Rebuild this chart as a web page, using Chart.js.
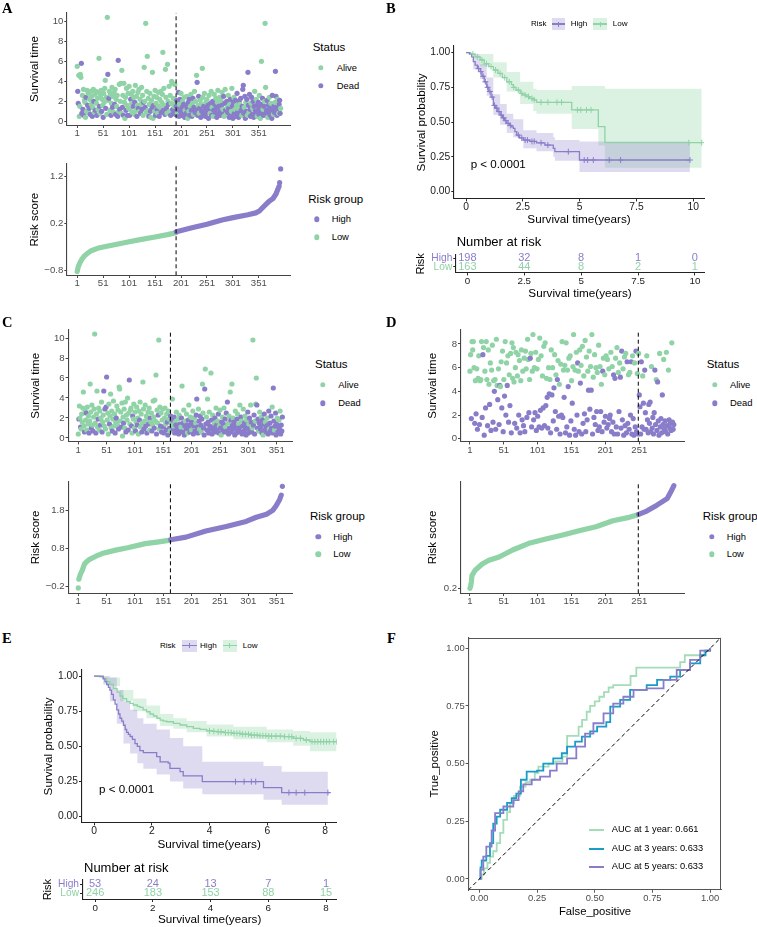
<!DOCTYPE html>
<html>
<head>
<meta charset="utf-8">
<title>Risk model figure</title>
<script src="https://cdn.jsdelivr.net/npm/chart.js@4.4.7/dist/chart.umd.min.js"></script>
<style>
  html, body { margin: 0; padding: 0; background: #fff; }
  #fig { position: relative; width: 757px; height: 927px; overflow: hidden; font-family: 'Liberation Sans', Arial, Helvetica, sans-serif; color: #000; }
  #fig canvas { position: absolute; }
  .t { position: absolute; white-space: nowrap; line-height: 1; transform: translateY(-50%); z-index: 2; }
  .lbl { font-family: 'Liberation Serif', 'Times New Roman', serif; font-weight: bold; }
  .dot { position: absolute; width: 5.4px; height: 5.4px; border-radius: 50%; transform: translate(-50%, -50%); z-index: 2; }
  .key { position: absolute; z-index: 2; }
</style>
</head>
<body>
<div id="fig"></div>
<script>
// ---------- data: panel A (survival time per patient, ordered by risk score) ----------
const timeA = [
  5.5,3.0,1.8,4.6,0.5,1.5,4.7,4.4,5.8,0.8, 2.6,1.2,3.2,0.6,2.1,1.9,0.4,2.4,1.0,3.1,
  1.6,2.8,0.9,1.3,2.2,0.7,3.0,1.7,2.5,0.5, 1.4,3.2,2.0,0.9,2.7,1.1,3.0,1.8,0.6,2.3,
  1.2,2.9,6.3,1.5,0.8,2.6,3.1,1.0,2.2,1.6, 0.4,2.8,1.9,3.3,4.1,1.3,2.4,0.7,10.4,4.7,
  2.1,2.3,3.0,1.1,2.7,0.6,1.8,3.4,1.4,2.5, 0.9,2.9,1.7,3.2,0.7,2.2,1.5,2.6,0.5,6.1,
  1.0,3.7,1.2,2.0,3.8,0.8,5.1,1.4,2.6,0.6, 3.8,1.9,0.3,2.4,1.1,3.3,1.6,0.6,2.8,1.3,
  3.5,0.6,1.2,2.2,2.7,1.8,0.9,3.0,1.5,2.4, 0.7,1.9,3.6,1.1,2.5,0.5,1.6,2.9,1.3,3.2,
  1.0,2.2,0.8,1.7,3.4,1.2,2.6,0.6,1.9,5.4, 2.0,1.4,9.8,0.9,3.0,6.5,1.1,2.3,0.5,1.7,
  2.8,1.0,0.4,2.1,1.3,4.9,0.3,1.6,2.5,1.0, 3.1,0.6,1.8,2.4,1.2,0.8,2.9,1.5,0.5,2.2,
  1.4,3.0,0.9,1.9,2.7,6.9,1.1,3.3,1.6,0.7, 5.2,2.4,1.3,0.8,5.7,2.0,1.7,3.5,1.0,2.6,
  0.6,1.8,4.0,3.8,1.2,2.3,0.9,1.5,3.7,0.7, 1.9,1.5,2.1,0.8,1.2,2.9,0.5,1.7,2.2,1.0,
  2.8,0.6,1.4,2.0,0.9,1.7,2.4,0.4,1.1,1.6, 0.8,2.5,1.3,0.3,1.9,1.0,2.2,0.6,1.5,2.7,
  1.1,0.5,1.8,2.3,0.7,1.4,3.0,0.9,2.0,1.2, 4.6,3.9,0.6,1.6,2.5,0.8,1.3,2.1,0.4,1.7,
  1.0,5.3,2.4,0.7,1.5,2.8,1.1,0.5,1.9,1.3, 2.2,0.9,1.6,0.3,2.6,1.2,0.8,1.8,3.0,0.6,
  1.4,2.0,0.5,1.1,2.7,1.7,0.9,2.3,1.3,0.4, 1.9,3.1,0.7,1.5,2.4,1.0,0.6,2.1,1.6,2.9,
  0.8,1.2,2.5,0.5,1.8,3.2,1.1,0.7,2.0,1.4, 0.9,2.6,1.3,0.4,1.7,2.2,0.6,1.0,3.3,1.5,
  0.3,1.9,2.4,0.8,1.2,2.1,0.5,1.6,2.8,0.9, 1.3,0.4,2.0,1.7,0.7,2.3,1.1,0.6,1.5,3.2,
  3.6,0.8,1.4,2.5,0.3,1.9,1.0,2.2,0.6,4.9, 1.6,0.9,2.7,1.2,0.5,1.8,2.4,0.7,1.3,2.0,
  0.4,1.5,3.0,1.0,0.8,2.2,1.6,0.5,1.1,1.9, 0.7,2.6,1.3,0.3,1.7,6.0,0.9,2.3,1.2,0.6,
  1.5,2.0,9.8,3.4,0.8,1.1,2.1,0.4,1.6,0.9, 2.4,1.3,0.6,1.8,1.0,0.3,2.6,1.2,0.7,1.5,
  0.9,1.9,5.0,2.5,1.1,0.6,2.2,1.4,0.8,1.7, 2.1,0.8,1.3
];
const statusA = ('ADDAAAAADD ADADAAADAA DAADADAAAD AADAADAADA AAADAAADAA DAAAADAAAD ADAAADAADA AADADAAADD ' +
  'AADAAAADAD AAAADAADAA ADADAAAADA ADAAADAADA AADAADAADA ADAAAAAADA ADAADAADAA ADAADAAADA ' +
  'AADAAADAAD AADAAADAAA DAAADADAAD ADDADDDADD ADDADDADAD DADADADDAA DDADADADAD ADDADADADA ' +
  'DAADDADDAD ADDDADADAD ADADADDADD AADDADDADA DADADADADA DADDADDAAD DDADADDADD ADDADDDADD ' +
  'DDADDADDAD DADDDADDAD DDADDADADD DADADADDAD DAAADDDADD ADDADDDDAD DADDDDADAD DDA').replace(/ /g, '').split('');
const lowCountA = 191;
const riskA_low = [[1,-0.82],[3,-0.72],[6,-0.64],[10,-0.56],[15,-0.49],[20,-0.44],[28,-0.38],[40,-0.33],[51,-0.30],[75,-0.25],[101,-0.19],[125,-0.14],[151,-0.09],[175,-0.04],[191,0.0]];
const riskA_high = [[192,0.02],[220,0.10],[251,0.18],[280,0.27],[301,0.32],[330,0.38],[345,0.42],[352,0.46],[360,0.55],[370,0.66],[378,0.72],[384,0.82],[388,0.93],[390,0.98]];
const riskA_outHigh = [[391,1.06],[393,1.35]];

// ---------- data: panel C ----------
const timeC = [
  0.4,1.9,3.2,2.0,1.1,0.9,2.4,1.6,3.0,4.6, 1.2,0.6,2.8,1.8,2.5,0.8,3.1,1.4,2.2,0.5,
  1.7,5.4,2.6,1.0,3.3,1.3,0.7,2.1,2.9,10.4, 1.5,0.5,2.4,4.7,1.1,1.9,3.0,0.8,2.7,1.3,
  2.0,3.6,0.6,1.6,2.3,4.7,1.2,2.9,0.9,3.1, 6.1,1.8,2.5,0.4,3.4,1.4,2.2,4.4,1.0,2.7,
  0.7,1.9,3.7,1.2,2.4,0.5,1.6,2.0,3.2,1.3, 2.8,0.9,5.1,4.9,1.7,2.6,1.1,3.5,0.2,2.1,
  1.5,2.9,1.0,3.6,0.6,2.3,1.8,4.0,0.8,2.5, 5.8,1.4,2.8,3.0,1.2,0.5,2.2,1.9,3.4,1.0,
  2.6,0.7,1.6,3.1,1.3,2.0,0.4,2.7,1.8,3.6, 1.1,2.4,0.6,1.5,5.6,2.9,0.9,1.7,3.3,1.2,
  2.2,0.5,1.9,2.6,1.4,3.0,0.8,2.0,1.6,2.5, 0.7,1.3,3.7,2.1,1.0,3.8,1.7,6.3,0.4,2.8,
  1.5,2.3,9.8,0.9,3.1,1.2,2.5,0.6,1.8,2.9, 1.1,0.5,2.0,3.0,1.4,0.8,2.4,1.6,0.3,2.7,
  1.9,1.0,0.7,2.2,1.5,1.8,3.9,0.9,1.2,2.1, 0.5,1.6,1.3,2.6,0.8,1.0,1.9,0.4,2.3,1.4,
  0.7,1.1,2.0,5.2,0.6,1.5,2.8,0.3,1.2,1.7, 0.9,2.4,1.3,0.5,1.8,3.3,1.0,0.6,2.1,1.4,
  0.8,1.6,2.7,0.4,1.2,2.0,0.7,1.5,2.3,3.9, 1.1,0.5,2.9,1.7,0.9,2.2,1.3,0.6,1.9,5.4,
  2.5,1.0,0.3,4.9,6.9,1.4,2.1,0.8,3.9,1.6, 0.5,2.6,1.2,0.9,6.5,1.8,0.4,2.3,1.1,0.7,
  1.5,2.0,0.6,3.0,1.3,0.9,1.7,2.4,0.5,1.2, 2.8,1.0,0.3,1.6,2.1,0.8,1.4,3.0,0.6,1.9,
  1.1,2.5,0.7,3.6,1.5,0.4,2.2,1.0,4.6,1.8, 0.6,5.4,1.3,2.0,0.9,1.6,0.3,2.7,1.2,0.5,
  1.9,2.4,0.8,1.4,1.0,3.3,0.6,2.1,1.7,0.4, 1.2,2.9,0.7,1.5,2.2,0.9,0.3,1.8,1.1,2.6,
  0.5,1.4,2.0,0.8,3.3,1.6,0.6,1.0,9.8,1.3, 2.3,0.4,1.7,3.4,6.0,3.3,1.0,1.9,0.7,1.5,
  2.6,0.9,1.2,2.1,0.5,1.8,0.3,1.4,2.4,0.8, 1.6,1.1,0.6,2.0,1.3,0.4,2.7,0.9,1.5,0.7,
  2.2,1.0,3.1,0.5,5.0,1.7,0.8,1.2,2.5,0.3, 1.4,2.0,0.6,1.1,1.8,0.9,2.7,0.4,1.3,0.7,
  2.1
];
const statusC = ('ADAADAAAAA ADAADAAAAD AAADAADAAA ADAAADAAAD AADAADADAD DAAAADAAAA DAAAADADAA ADAAAADAAA ' +
  'DAAADAAADA DAAADADAAA ADAADAAADA AADAAADAAD ADAADAADAA DAAADAAADA ADAAADADAA DDAAADADDA ' +
  'ADADADADAD DADADDADAD DADADDADDA DADADADDAD ADADDADADD DDADADDADA ADDDADADAD DADDADDADD ' +
  'ADDADDADDA ADADADDADD ADDDADADAD DADADDDADD DADADADDAD DADDADDADD DADDADDAAD DDAAADDDAD ' +
  'ADDADDADDD ADDADDDADD DDADDDADDD DADDADADDD D').replace(/ /g, '').split('');
const lowCountC = 163;
const riskC_low = [[2,0.0],[3,0.05],[5,0.14],[8,0.23],[12,0.40],[16,0.46],[20,0.51],[32,0.60],[43,0.67],[67,0.76],[90,0.83],[119,0.93],[140,0.97],[163,1.02]];
const riskC_high = [[164,1.03],[191,1.10],[226,1.26],[262,1.38],[297,1.51],[315,1.62],[333,1.70],[344,1.80],[350,1.92],[356,2.08],[359,2.20]];
const riskC_outLow = [[1,-0.23]];
const riskC_outHigh = [[361,2.43]];

// ---------- data: panel D ----------
const timeD = [
  5.7,7.1,1.7,8.2,7.5,8.2,6.0,1.3,4.9,2.1, 5.9,0.8,5.1,7.0,1.2,4.9,5.0,8.2,1.8,7.1,
  7.7,0.3,5.7,2.6,8.2,5.0,1.1,7.5,4.6,2.9, 6.4,0.7,5.8,7.9,1.4,4.9,4.0,5.0,0.8,8.4,
  4.5,3.3,5.9,1.2,4.5,4.4,6.5,2.6,7.4,0.6, 5.0,3.6,8.2,2.0,6.4,4.5,7.0,1.4,5.4,2.8,
  7.2,0.5,8.1,5.1,7.7,4.8,1.3,6.0,7.3,0.9, 5.3,7.1,2.0,6.6,0.5,4.9,7.5,1.6,5.7,1.1,
  6.8,0.6,7.4,5.9,1.8,8.4,6.7,2.2,5.0,6.8, 7.2,1.0,5.7,8.8,1.6,6.0,2.2,7.3,0.7,5.9,
  1.9,6.7,1.0,8.5,2.4,7.0,0.9,5.3,2.6,7.8, 1.1,8.1,2.8,5.1,3.5,0.9,6.0,3.8,5.0,0.5,
  7.5,3.7,6.0,1.5,4.3,7.1,2.3,5.4,0.8,5.0, 6.6,1.9,4.6,0.4,6.3,2.0,8.2,1.8,5.8,3.5,
  6.2,0.5,8.1,1.0,5.8,4.4,6.8,0.3,7.0,1.5, 4.9,3.0,6.1,8.8,0.8,5.8,0.3,7.3,2.0,6.4,
  5.7,0.6,7.5,4.7,6.2,0.4,7.8,1.3,5.3,2.1, 8.3,0.6,6.9,1.6,5.7,4.1,7.4,2.5,6.1,4.1,
  8.8,0.4,5.2,1.8,7.1,1.2,6.0,2.3,5.6,0.7, 7.9,1.0,6.1,2.3,4.6,0.6,5.7,6.8,1.4,5.4,
  1.9,7.0,0.9,6.7,1.2,5.9,1.7,2.0,7.3,0.6, 6.1,1.4,5.4,0.4,5.1,6.8,1.0,7.7,0.4,5.6,
  2.3,6.4,5.2,0.9,7.4,1.6,5.9,0.3,6.9,1.1, 7.2,0.5,6.5,1.3,5.4,0.8,5.6,2.0,6.5,0.4,
  7.0,1.7,0.3,6.4,1.0,7.4,0.6,5.5,0.4,7.2, 3.7,2.7,0.4,6.5,1.0,5.3,3.0,0.8,5.8,2.2,
  0.8,7.0,1.6,0.5,2.9,1.3,3.1,0.6,6.1,0.9, 1.8,0.4,2.2,5.8,1.2,5.0,0.7,4.8,1.5,0.3,
  7.2,1.0,1.7,0.5,3.7,1.2,6.7,0.8,1.5,0.6, 7.3,1.1,0.4,5.8,1.6,0.9,1.3,0.7,8.1,1.4,
  0.8,1.2
];
const statusD = ('AADAAAADAD ADAADAAADD ADADAADAAD ADAADADADA ADADDAADAD ADADADADAD ADAAAADAAD AADADAADAD ' +
  'ADAADAADAD ADAADADADA DADADADADA DADADDADAD ADADDADADD ADADADADAD ADADADADAD ADAADADADD ' +
  'ADADADADAD ADADADADAD ADADADADAD ADADADDADA DADADADDAD ADDDDADADA DADDDDADAD ADDDADADDD ' +
  'ADDADDDADA DDDDDADDDD DADDDDDDAD DDDDDADDDD ADDDDDADDD ADDADDDDAD DD').replace(/ /g, '').split('');
const lowCountD = 249;
const riskD_low = [[1,0.20],[2,0.22],[3,0.26],[4,0.32],[9,0.37],[19,0.425],[29,0.46],[44,0.49],[64,0.555],[88,0.617],[113,0.656],[138,0.693],[162,0.733],[187,0.77],[212,0.826],[236,0.857],[249,0.88]];
const riskD_high = [[250,0.885],[262,0.915],[277,0.97],[292,1.03],[299,1.11],[302,1.15]];

// ---------- data: panel B (Kaplan-Meier) ----------
const kmB_high_t = [0,0.15,0.25,0.32,0.4,0.5,0.62,0.7,0.8,0.91,1.0,1.1,1.2,1.3,1.4,1.5,1.6,1.7,1.79,1.9,2.0,2.08,2.15,2.23,2.35,2.52,2.8,3.1,3.47,3.84,3.91,4.99,9.85];
const kmB_high_s = [1,0.99,0.97,0.935,0.91,0.885,0.863,0.83,0.79,0.75,0.72,0.68,0.62,0.6,0.575,0.55,0.53,0.51,0.49,0.475,0.465,0.454,0.43,0.406,0.385,0.37,0.36,0.35,0.334,0.31,0.286,0.226,0.226];
const bandB_high_t = [0,0.32,0.62,0.91,1.2,1.5,1.79,2.08,2.52,3.1,3.84,3.91,4.99,9.85];
const bandB_high_up = [1,0.99,0.92,0.82,0.70,0.63,0.56,0.52,0.44,0.42,0.39,0.37,0.36,0.36];
const bandB_high_lo = [1,0.88,0.81,0.69,0.55,0.48,0.42,0.39,0.31,0.29,0.25,0.22,0.14,0.14];
const censB_high = [0.55,0.65,0.75,0.85,0.95,1.05,1.15,1.25,1.35,1.45,1.55,1.65,1.75,1.85,1.95,2.3,2.45,2.6,2.7,2.9,3.0,3.3,3.6,4.5,5.2,5.35,5.6,6.3,6.8,9.85];
const kmB_low_t = [0,0.2,0.4,0.62,0.8,1.0,1.2,1.4,1.6,1.79,2.0,2.08,2.2,2.38,2.5,2.67,2.8,2.96,3.1,4.65,5.82,6.11,10.37];
const kmB_low_s = [1,0.99,0.97,0.947,0.92,0.9,0.875,0.85,0.82,0.79,0.77,0.75,0.73,0.707,0.695,0.683,0.67,0.66,0.642,0.587,0.466,0.351,0.351];
const bandB_low_t = [0,0.62,1.2,1.79,2.38,2.96,3.1,4.65,5.82,6.11,10.37];
const bandB_low_up = [1,0.99,0.93,0.86,0.79,0.74,0.73,0.76,0.76,0.74,0.74];
const bandB_low_lo = [1,0.9,0.82,0.72,0.63,0.58,0.56,0.45,0.33,0.17,0.17];
const censB_low = [0.3,0.5,0.7,0.9,1.1,1.3,1.5,1.7,1.9,2.1,2.3,2.45,2.6,2.75,2.9,3.0,3.3,3.6,4.0,4.2,4.9,5.05,5.3,5.5,9.8,10.37];
const tableB_t = [0,2.5,5,7.5,10];
const tableB_high = [198,32,8,1,0];
const tableB_low = [163,44,8,2,1];

// ---------- data: panel E (Kaplan-Meier) ----------
const kmE_high_t = [0,0.32,0.38,0.44,0.5,0.55,0.61,0.67,0.73,0.79,0.85,0.9,0.96,1.02,1.08,1.13,1.19,1.25,1.33,1.42,1.5,1.59,1.71,2.17,2.29,2.57,2.63,2.98,3.09,3.75,5.87,6.5,8.18];
const kmE_high_s = [1,0.98,0.96,0.94,0.92,0.9,0.87,0.83,0.8,0.76,0.73,0.7,0.68,0.65,0.62,0.6,0.585,0.57,0.55,0.52,0.5,0.47,0.455,0.427,0.39,0.38,0.344,0.32,0.29,0.249,0.206,0.171,0.171];
const bandE_high_t = [0,0.32,0.55,0.79,1.02,1.25,1.5,1.71,2.17,2.63,3.09,3.75,5.87,6.5,8.1];
const bandE_high_up = [1,1,0.99,0.9,0.82,0.76,0.7,0.66,0.62,0.56,0.5,0.39,0.36,0.32,0.32];
const bandE_high_lo = [1,0.94,0.82,0.66,0.52,0.45,0.38,0.34,0.3,0.25,0.2,0.16,0.12,0.085,0.085];
const censE_high = [4.9,5.2,5.45,5.6,6.75,7.0,7.3,8.1];
const kmE_low_t = [0,0.2,0.3,0.44,0.55,0.67,0.8,0.9,1.0,1.13,1.25,1.36,1.5,1.59,1.7,1.82,1.94,2.06,2.18,2.29,2.4,2.52,2.75,2.98,3.21,3.44,3.67,3.9,4.1,4.25,4.5,4.83,5.1,5.4,5.7,5.98,6.56,6.9,7.25,7.48,8.4];
const kmE_low_s = [1,0.995,0.985,0.96,0.94,0.91,0.885,0.858,0.84,0.818,0.805,0.794,0.785,0.777,0.76,0.746,0.73,0.716,0.7,0.687,0.68,0.675,0.664,0.652,0.64,0.628,0.621,0.611,0.607,0.604,0.598,0.592,0.586,0.58,0.576,0.573,0.569,0.557,0.545,0.533,0.533];
const bandE_low_t = [0,0.44,0.9,1.36,1.82,2.29,2.75,3.21,3.9,4.83,5.98,6.9,7.48,8.4];
const bandE_low_up = [1,0.99,0.9,0.84,0.79,0.73,0.7,0.68,0.655,0.64,0.62,0.61,0.6,0.6];
const bandE_low_lo = [1,0.93,0.82,0.75,0.7,0.645,0.625,0.6,0.57,0.55,0.53,0.505,0.465,0.465];
const censE_low = [4.0,4.15,4.3,4.4,4.55,4.65,4.75,4.85,4.95,5.05,5.15,5.25,5.35,5.45,5.55,5.65,5.75,5.85,5.95,6.05,6.15,6.3,6.45,6.6,6.75,6.85,7.0,7.15,7.35,7.55,7.65,7.75,7.85,7.95,8.05,8.15,8.3,8.4];
const tableE_t = [0,2,4,6,8];
const tableE_high = [53,24,13,7,1];
const tableE_low = [246,183,153,88,15];

// ---------- data: panel F (ROC) ----------
const roc1_fpr = [0,0.01,0.02,0.035,0.046,0.06,0.075,0.09,0.104,0.12,0.133,0.15,0.176,0.2,0.22,0.24,0.256,0.3,0.33,0.36,0.38,0.42,0.43,0.445,0.465,0.48,0.5,0.52,0.54,0.56,0.58,0.64,0.655,0.68,0.85,0.87,0.89,0.96,0.975,1.0];
const roc1_tpr = [0,0.02,0.046,0.07,0.097,0.12,0.155,0.2,0.256,0.29,0.328,0.36,0.40,0.42,0.43,0.46,0.487,0.5,0.51,0.53,0.62,0.62,0.66,0.69,0.725,0.75,0.77,0.79,0.81,0.83,0.84,0.84,0.88,0.916,0.916,0.94,0.97,0.97,0.99,1.0];
const roc3_fpr = [0,0.005,0.01,0.03,0.046,0.06,0.075,0.09,0.12,0.14,0.16,0.18,0.205,0.25,0.277,0.32,0.357,0.38,0.415,0.444,0.48,0.51,0.55,0.567,0.61,0.653,0.725,0.77,0.827,0.87,0.913,0.957,0.98,1.0];
const roc3_tpr = [0,0.05,0.08,0.1,0.155,0.24,0.27,0.3,0.33,0.35,0.37,0.43,0.465,0.47,0.5,0.523,0.545,0.574,0.595,0.617,0.64,0.66,0.68,0.747,0.776,0.82,0.84,0.863,0.877,0.906,0.935,0.97,0.99,1.0];
const roc5_fpr = [0,0.005,0.017,0.03,0.053,0.068,0.104,0.147,0.17,0.19,0.227,0.263,0.306,0.335,0.38,0.42,0.458,0.494,0.538,0.58,0.624,0.668,0.725,0.798,0.855,0.913,0.957,1.0];
const roc5_tpr = [0,0.04,0.097,0.14,0.21,0.285,0.314,0.342,0.38,0.41,0.43,0.444,0.47,0.5,0.523,0.574,0.63,0.675,0.718,0.76,0.79,0.82,0.826,0.863,0.906,0.95,0.99,1.0];
const rocLabels = ['AUC at 1 year: 0.661', 'AUC at 3 years: 0.633', 'AUC at 5 years: 0.633'];

// ---------- styling / helpers ----------
const FONT = "'Liberation Sans', Arial, Helvetica, sans-serif";
Chart.defaults.font.family = FONT;
const GREEN = '#8fd3a6', PURPLE = '#897dca', BLUE = '#1b9bc8', GREEN_ROC = '#a4dcb7';
const GREEN_BAND = 'rgba(143,211,166,0.32)', PURPLE_BAND = 'rgba(137,125,202,0.28)';
const fig = document.getElementById('fig');

function txt(s, x, y, size, opt) {
  opt = opt || {};
  const d = document.createElement('div');
  d.className = 't' + (opt.cls ? ' ' + opt.cls : '');
  d.textContent = s;
  d.style.left = x + 'px';
  d.style.top = y + 'px';
  d.style.fontSize = size + 'px';
  if (opt.color) d.style.color = opt.color;
  fig.appendChild(d);
}
function dot(x, y, color) {
  const d = document.createElement('div');
  d.className = 'dot';
  d.style.left = x + 'px'; d.style.top = y + 'px'; d.style.background = color;
  fig.appendChild(d);
}
function kmKey(x, y, w, h, fill, stroke) {
  const k = document.createElement('div');
  k.className = 'key';
  k.style.cssText = `left:${x}px;top:${y}px;width:${w}px;height:${h}px;background:${fill};`;
  k.innerHTML = `<div style="position:absolute;left:0;right:0;top:${h / 2 - 0.6}px;height:1.2px;background:${stroke}"></div>` +
    `<div style="position:absolute;left:${w / 2 - 0.5}px;width:1px;top:${h / 2 - 2.5}px;height:5px;background:${stroke}"></div>`;
  fig.appendChild(k);
}
function lineKey(x0, x1, y, color) {
  const k = document.createElement('div');
  k.className = 'key';
  k.style.cssText = `left:${x0}px;top:${y - 1}px;width:${x1 - x0}px;height:2px;background:${color};`;
  fig.appendChild(k);
}

function axis(o) {
  return {
    type: 'linear', min: o.min, max: o.max, reverse: !!o.reverse,
    afterBuildTicks: s => { s.ticks = o.ticks.map(v => ({ value: v })); },
    ticks: {
      autoSkip: false, maxRotation: 0, minRotation: 0, padding: o.pad != null ? o.pad : 1,
      color: o.color || '#4d4d4d', font: { size: o.size || 9.6 },
      callback: o.fmt || (v => String(v))
    },
    grid: { display: true, drawOnChartArea: false, drawTicks: true, tickLength: 2.7, color: o.line || '#444', lineWidth: 1 },
    border: { display: true, color: o.line || '#444', width: 1.1 },
    title: o.title ? { display: true, text: o.title, color: '#000', font: { size: o.titleSize || 11.5 } } : { display: false }
  };
}

// box = canvas [left, top, width, height]; area = plot panel [x0, y0, x1, y1] in page pixels
function makeChart(box, area, datasets, scales, extra) {
  extra = extra || {};
  const [bx, by, bw, bh] = box, [x0, y0, x1, y1] = area;
  const c = document.createElement('canvas');
  c.width = bw; c.height = bh;
  c.style.left = bx + 'px'; c.style.top = by + 'px';
  c.style.width = bw + 'px'; c.style.height = bh + 'px';
  fig.appendChild(c);
  const xH = by + bh - y1, yW = x0 - bx;
  scales.x.afterFit = s => { s.height = xH; };
  scales.y.afterFit = s => { s.width = yW; };
  if (extra.xTitleAt != null) {
    const fs = scales.x.title.font.size;
    scales.x.title.padding = { top: 0, bottom: Math.max(0, by + bh - extra.xTitleAt - 0.6 * fs) };
  }
  if (extra.yTitleAt != null) {
    const fs = scales.y.title.font.size;
    scales.y.title.padding = { top: extra.yTitleAt - bx - 0.6 * fs, bottom: 0 };
  }
  return new Chart(c, {
    type: 'line',
    data: { datasets },
    options: {
      responsive: false, animation: false, devicePixelRatio: 1, events: [],
      layout: { padding: { left: 0, top: y0 - by, right: bx + bw - x1, bottom: 0 } },
      plugins: { legend: { display: false }, tooltip: { enabled: false } },
      scales
    },
    plugins: extra.plugins || []
  });
}

const signed1 = v => (v < 0 ? '\u2212' : '') + Math.abs(v).toFixed(1);
const fixed2 = v => v.toFixed(2);
const pair = a => a.map(p => ({ x: p[0], y: p[1] }));
const idxTicks = [1, 51, 101, 151, 201, 251, 301, 351];
const idxTicksD = [1, 51, 101, 151, 201, 251];

function cutLine(cut, yr) {
  return { data: [{ x: cut, y: yr[0] }, { x: cut, y: yr[1] }], borderColor: '#000', borderWidth: 1, borderDash: [4, 3], pointRadius: 0, fill: false };
}

function scatterPanel(box, area, times, status, xr, yr, yt, xt, cut, titleAt) {
  const datasets = [
    cutLine(cut, yr),
    {
      data: times.map((t, i) => ({ x: i + 1, y: t })), showLine: false,
      pointRadius: 2.6, pointHoverRadius: 2.6, pointBorderWidth: 0,
      pointBackgroundColor: status.map(s => s === 'A' ? GREEN : PURPLE)
    }
  ];
  const scales = {
    x: axis({ min: xr[0], max: xr[1], ticks: xt, pad: 0 }),
    y: axis({ min: yr[0], max: yr[1], ticks: yt, title: 'Survival time' })
  };
  makeChart(box, area, datasets, scales, { yTitleAt: titleAt });
}

function riskPanel(box, area, low, high, outLow, outHigh, xr, yr, yt, xt, cut, titleAt) {
  const curve = (d, col) => ({ data: pair(d), borderColor: col, borderWidth: 5.2, borderCapStyle: 'round', borderJoinStyle: 'round', pointRadius: 0, fill: false });
  const pts = (d, col) => ({ data: pair(d), showLine: false, pointRadius: 2.6, pointBorderWidth: 0, pointBackgroundColor: col });
  const datasets = [cutLine(cut, yr), pts(outHigh, PURPLE), pts(outLow, GREEN), curve(high, PURPLE), curve(low, GREEN)];
  const scales = {
    x: axis({ min: xr[0], max: xr[1], ticks: xt, pad: 0 }),
    y: axis({ min: yr[0], max: yr[1], ticks: yt, fmt: signed1, title: 'Risk score' })
  };
  makeChart(box, area, datasets, scales, { yTitleAt: titleAt });
}

function stepAt(t, s, c) { let v = s[0]; for (let i = 0; i < t.length; i++) if (t[i] <= c) v = s[i]; return v; }
function kmSets(t, s, bt, up, lo, cens, color, band) {
  return {
    cens: { data: cens.map(c => ({ x: c, y: stepAt(t, s, c) })), showLine: false, pointStyle: 'cross', pointRadius: 3, pointBorderWidth: 1, pointBorderColor: color, pointBackgroundColor: color },
    curve: { data: t.map((v, i) => ({ x: v, y: s[i] })), stepped: true, borderColor: color, borderWidth: 1.3, pointRadius: 0, fill: false },
    up: { data: bt.map((v, i) => ({ x: v, y: up[i] })), stepped: true, borderWidth: 0, borderColor: 'rgba(0,0,0,0)', pointRadius: 0, fill: '+1', backgroundColor: band },
    lo: { data: bt.map((v, i) => ({ x: v, y: lo[i] })), stepped: true, borderWidth: 0, borderColor: 'rgba(0,0,0,0)', pointRadius: 0, fill: false }
  };
}
function kmPanel(box, area, xr, yr, xt, hi, lo, xTitleAt, yTitleAt) {
  const datasets = [hi.cens, lo.cens, hi.curve, lo.curve, hi.up, hi.lo, lo.up, lo.lo];
  const scales = {
    x: axis({ min: xr[0], max: xr[1], ticks: xt, pad: 0, size: 10.3, color: '#1a1a1a', line: '#222', title: 'Survival time(years)', titleSize: 11.7 }),
    y: axis({ min: yr[0], max: yr[1], ticks: [0, 0.25, 0.5, 0.75, 1], fmt: fixed2, size: 10.3, color: '#1a1a1a', line: '#222', title: 'Survival probability', titleSize: 11.7 })
  };
  makeChart(box, area, datasets, scales, { xTitleAt, yTitleAt });
}

const tableText = {
  id: 'tableText',
  afterDatasetsDraw(chart) {
    const ctx = chart.ctx;
    ctx.save();
    ctx.font = '11px ' + FONT;
    ctx.textAlign = 'center';
    ctx.textBaseline = 'middle';
    chart.data.datasets.forEach((ds, i) => {
      ctx.fillStyle = ds.borderColor;
      chart.getDatasetMeta(i).data.forEach((pt, j) => ctx.fillText(String(ds.data[j].n), pt.x, pt.y));
    });
    ctx.restore();
  }
};
function tablePanel(box, area, xr, yr, times, high, low, xTitleAt, yTitleAt) {
  const scales = {
    x: axis({ min: xr[0], max: xr[1], ticks: times, pad: 0, size: 9.8, color: '#1a1a1a', line: '#222', title: 'Survival time(years)', titleSize: 11.7 }),
    y: axis({ min: yr[0], max: yr[1], reverse: true, ticks: [0, 1], fmt: v => v === 0 ? 'High' : 'Low', size: 10.2, line: '#222', title: 'Risk', titleSize: 11 })
  };
  scales.y.ticks.color = c => (c.tick && c.tick.value === 0) ? PURPLE : GREEN;
  const datasets = [
    { data: times.map((t, i) => ({ x: t, y: 0, n: high[i] })), borderColor: PURPLE, showLine: false, pointRadius: 0 },
    { data: times.map((t, i) => ({ x: t, y: 1, n: low[i] })), borderColor: GREEN, showLine: false, pointRadius: 0 }
  ];
  makeChart(box, area, datasets, scales, { xTitleAt, yTitleAt, plugins: [tableText] });
}

const frameBox = {
  id: 'frameBox',
  afterDraw(chart) {
    const a = chart.chartArea, ctx = chart.ctx;
    ctx.save();
    ctx.strokeStyle = '#555';
    ctx.lineWidth = 1;
    ctx.strokeRect(Math.round(a.left) + 0.5, Math.round(a.top) + 0.5, Math.round(a.width) - 1, Math.round(a.height) - 1);
    ctx.restore();
  }
};

// ---------- Panel A ----------
const xrA = [-18.7, 411];
scatterPanel([0, 0, 300, 140], [67, 12.7, 290, 125.3], timeA, statusA, xrA, [-0.4, 10.86], [0, 2, 4, 6, 8, 10], idxTicks, lowCountA + 0.5, 35);
riskPanel([0, 150, 300, 145], [67, 164, 290, 275.3], riskA_low, riskA_high, [], riskA_outHigh, xrA, [-0.9, 1.454], [-0.8, 0.2, 1.2], idxTicks, lowCountA + 0.5, 35);

// ---------- Panel C ----------
const xrC = [-16.6, 379.2];
scatterPanel([0, 318, 300, 145], [68.3, 330, 292.7, 441.7], timeC, statusC, xrC, [-0.37, 10.8], [0, 2, 4, 6, 8, 10], idxTicks, lowCountC + 0.5, 35.7);
riskPanel([0, 468, 300, 145], [68.3, 481.7, 292.7, 593.3], riskC_low, riskC_high, riskC_outLow, riskC_outHigh, xrC, [-0.37, 2.55], [-0.2, 0.8, 1.8], idxTicks, lowCountC + 0.5, 35.7);

// ---------- Panel D ----------
const xrD = [-12.7, 317];
scatterPanel([400, 318, 300, 145], [460.7, 330, 684, 441.7], timeD, statusD, xrD, [-0.25, 9.18], [0, 2, 4, 6, 8], idxTicksD, lowCountD + 0.5, 433.3);
riskPanel([400, 468, 300, 145], [460.7, 481.7, 684, 593.3], riskD_low, riskD_high, [], [], xrD, [0.154, 1.187], [0.2], idxTicksD, lowCountD + 0.5, 433.3);

// ---------- Panel B ----------
kmPanel([400, 34, 320, 199], [454, 46, 704, 198.7], [-0.53, 10.47], [-0.053, 1.048], [0, 2.5, 5, 7.5, 10],
  kmSets(kmB_high_t, kmB_high_s, bandB_high_t, bandB_high_up, bandB_high_lo, censB_high, PURPLE, PURPLE_BAND),
  kmSets(kmB_low_t, kmB_low_s, bandB_low_t, bandB_low_up, bandB_low_lo, censB_low, GREEN, GREEN_BAND), 220, 421.7);
tablePanel([400, 243, 320, 59], [456, 255, 704, 272.7], [-0.5, 10.4], [-0.39, 1.71], tableB_t, tableB_high, tableB_low, 294, 420.7);

// ---------- Panel E ----------
kmPanel([0, 660, 352, 195], [81.7, 670, 336.7, 822.7], [-0.426, 8.405], [-0.043, 1.043], [0, 2, 4, 6, 8],
  kmSets(kmE_high_t, kmE_high_s, bandE_high_t, bandE_high_up, bandE_high_lo, censE_high, PURPLE, PURPLE_BAND),
  kmSets(kmE_low_t, kmE_low_s, bandE_low_t, bandE_low_up, bandE_low_lo, censE_low, GREEN, GREEN_BAND), 845, 48.3);
tablePanel([0, 868, 352, 59], [82.7, 880, 336.7, 899.3], [-0.43, 8.37], [-0.48, 1.67], tableE_t, tableE_high, tableE_low, 920, 47.7);

// ---------- Panel F ----------
(function () {
  const xr = [-0.048, 1.05], yr = [-0.048, 1.046];
  const roc = (f, t, col) => ({ data: f.map((v, i) => ({ x: v, y: t[i] })), stepped: true, borderColor: col, borderWidth: 1.8, pointRadius: 0, fill: false });
  const datasets = [
    { data: [{ x: xr[0], y: xr[0] }, { x: xr[1], y: xr[1] }], borderColor: '#000', borderWidth: 1, borderDash: [4, 3], pointRadius: 0, fill: false },
    roc(roc5_fpr, roc5_tpr, PURPLE),
    roc(roc3_fpr, roc3_tpr, BLUE),
    roc(roc1_fpr, roc1_tpr, GREEN_ROC)
  ];
  const t4 = [0, 0.25, 0.5, 0.75, 1];
  const scales = {
    x: axis({ min: xr[0], max: xr[1], ticks: t4, fmt: fixed2, pad: 0, size: 9.4, line: '#555', title: 'False_positive', titleSize: 11.3 }),
    y: axis({ min: yr[0], max: yr[1], ticks: t4, fmt: fixed2, size: 9.4, line: '#555', title: 'True_positive', titleSize: 11.3 })
  };
  makeChart([420, 626, 330, 301], [468.3, 637.7, 721.7, 890], datasets, scales, { xTitleAt: 912.3, yTitleAt: 435, plugins: [frameBox] });
})();

// ---------- text: panel letters, legends, annotations ----------
txt('A', 2, 7.5, 14.5, { cls: 'lbl' });
txt('B', 386, 7.5, 14.5, { cls: 'lbl' });
txt('C', 2, 321.7, 14.5, { cls: 'lbl' });
txt('D', 386, 322, 14.5, { cls: 'lbl' });
txt('E', 2, 638, 14.5, { cls: 'lbl' });
txt('F', 387, 638, 14.5, { cls: 'lbl' });

function pointLegend(title, labels, colors, tx, ty, dx, lx, ys) {
  txt(title, tx, ty, 11.5);
  labels.forEach((l, i) => { dot(dx, ys[i], colors[i]); txt(l, lx, ys[i], 9.4); });
}
pointLegend('Status', ['Alive', 'Dead'], [GREEN, PURPLE], 312.7, 48, 321, 336.7, [68, 86]);
pointLegend('Risk group', ['High', 'Low'], [PURPLE, GREEN], 308.3, 200, 316.7, 331.7, [219.3, 237.3]);
pointLegend('Status', ['Alive', 'Dead'], [GREEN, PURPLE], 315, 365, 322.7, 338.3, [385, 403.3]);
pointLegend('Risk group', ['High', 'Low'], [PURPLE, GREEN], 310, 516.7, 318.3, 333.3, [536.7, 554.3]);
pointLegend('Status', ['Alive', 'Dead'], [GREEN, PURPLE], 706.7, 365, 715, 730, [385, 403.3]);
pointLegend('Risk group', ['High', 'Low'], [PURPLE, GREEN], 702.7, 516.7, 711.7, 726.7, [536.7, 554.3]);

// KM legends
txt('Risk', 531, 24, 8);
kmKey(552, 18, 13, 12, PURPLE_BAND, PURPLE); txt('High', 570.7, 24, 8.1);
kmKey(593, 18, 14, 12, GREEN_BAND, GREEN); txt('Low', 612.7, 24, 8.1);
txt('Risk', 160, 645.7, 8);
kmKey(181.7, 639.5, 15, 12, PURPLE_BAND, PURPLE); txt('High', 200, 645.7, 8.1);
kmKey(222.7, 639.5, 14, 12, GREEN_BAND, GREEN); txt('Low', 242.7, 645.7, 8.1);

txt('p < 0.0001', 470.7, 164, 11.6);
txt('p < 0.0001', 99, 789, 11.6);
txt('Number at risk', 456.7, 240.7, 13);
txt('Number at risk', 84, 866.7, 13);

// ROC legend
[GREEN_ROC, BLUE, PURPLE].forEach((col, i) => {
  const y = [830, 848.7, 866.7][i];
  lineKey(589.3, 604, y, col);
  txt(rocLabels[i], 611.7, y, 9.3);
});
</script>
</body>
</html>
